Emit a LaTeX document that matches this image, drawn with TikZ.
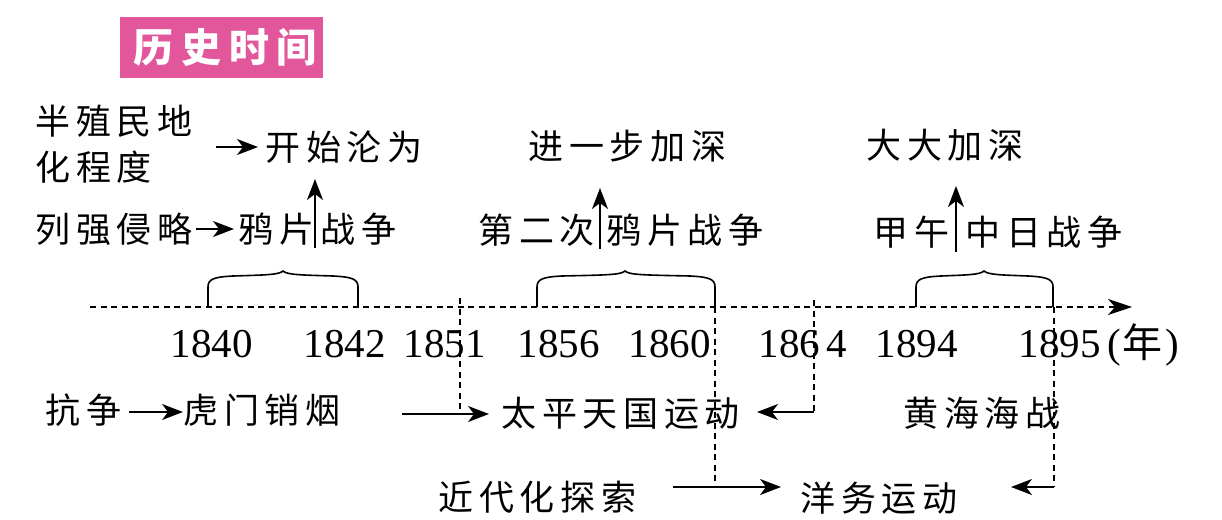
\documentclass[tikz,border=0pt]{standalone}
\usepackage{fontspec}
\setmainfont{Liberation Serif}
\newfontfamily\cjk[LetterSpace=16]{Noto Sans CJK SC}
\newfontfamily\cjkt[LetterSpace=19]{Noto Sans CJK SC}
\newfontfamily\cjkp{Noto Sans CJK SC}
\usetikzlibrary{arrows.meta}
\definecolor{titlepink}{HTML}{E2579C}
\tikzset{
  cj/.style={inner sep=0pt, anchor=west, text height=30.8pt, text depth=4.2pt,
    font=\cjk\fontsize{35}{35}\selectfont},
  num/.style={inner sep=0pt, anchor=base west, font=\fontsize{41}{41}\selectfont},
  dsh/.style={line width=1.5pt, dash pattern=on 6pt off 4.5pt},
  arr/.style={line width=1.8pt, -{Stealth[length=21pt,width=16pt,inset=6pt]}},
  bracepath/.style={line width=1.6pt},
  titlebox/.style={fill=titlepink, text=white, inner sep=0pt,
    minimum width=203pt, minimum height=61pt,
    font=\cjkt\bfseries\fontsize{40}{40}\selectfont}
}
\begin{document}
\begin{tikzpicture}[x=1pt,y=-1pt]
\useasboundingbox (0,0) rectangle (1222,519);

% title
\node[titlebox] (title) at (221.5,47.5) {\hspace*{7.6pt}历史时间};

% top texts
\node[cj] (bzm) at (35.5,121) {半殖民地};
\node[cj] (hcd) at (35.5,167) {化程度};
\node[cj] (ksl) at (265.5,147) {开始沦为};
\node[cj] (lqql) at (35.5,229) {列强侵略};
\node[cj] (yp1) at (238.5,229) {鸦片};
\node[cj] (zz1) at (320.5,229) {战争};
\node[cj] (jyb) at (528.5,146) {进一步加深};
\node[cj] (dec) at (478.5,230) {第二次};
\node[cj] (yp2) at (606.5,230) {鸦片战争};
\node[cj] (ddj) at (866.5,145) {大大加深};
\node[cj] (jw) at (873.5,232) {甲午};
\node[cj] (zrzz) at (965.5,232) {中日战争};

% arrows upper area
\coordinate (a1s) at (216,147); \coordinate (a1e) at (258,147);
\draw[arr] (a1s) -- (a1e);
\coordinate (a2s) at (196,229); \coordinate (a2e) at (234,229);
\draw[arr] (a2s) -- (a2e);
\coordinate (v1s) at (315,248); \coordinate (v1e) at (315,179);
\draw[arr] (v1s) -- (v1e);
\coordinate (v2s) at (600,249); \coordinate (v2e) at (600,188);
\draw[arr] (v2s) -- (v2e);
\coordinate (v3s) at (956,252); \coordinate (v3e) at (956,186);
\draw[arr] (v3s) -- (v3e);

% timeline
\coordinate (tl0) at (90,307); \coordinate (tl1) at (1132,307);
\draw[dsh, -{Stealth[length=24pt,width=16pt,inset=7pt]}] (tl0) -- (tl1);

% braces
\draw[bracepath] (208,307) -- (208,287) .. controls (208,279) and (214,277) .. (233,276)
  .. controls (263,275) and (279,275) .. (283,271)
  .. controls (287,275) and (303,275) .. (333,276)
  .. controls (352,277) and (358,279) .. (358,287) -- (358,307);
\draw[bracepath] (537,307) -- (537,287) .. controls (537,279) and (543,277) .. (562,276)
  .. controls (605,275) and (621,275) .. (625,271)
  .. controls (629,275) and (645,275) .. (690,276)
  .. controls (709,277) and (715,279) .. (715,287) -- (715,307);
\draw[bracepath] (916,307) -- (916,287) .. controls (916,279) and (922,277) .. (941,276)
  .. controls (964,275) and (980,275) .. (984,271)
  .. controls (988,275) and (1004,275) .. (1028,276)
  .. controls (1047,277) and (1053,279) .. (1053,287) -- (1053,307);

% years
\node[num] (y1840) at (170.5,357) {1840};
\node[num] (y1842) at (303.5,357) {1842};
\node[num] (y1851) at (403.5,357) {1851};
\node[num] (y1856) at (517.5,357) {1856};
\node[num] (y1860) at (628.5,357) {1860};
\node[num] (y186) at (758.5,357) {186};
\node[num] (y4) at (826.5,357) {4};
\node[num] (y1894) at (875.5,357) {1894};
\node[num] (y1895) at (1018.5,357) {1895};
\node[num] (nian) at (1107,357) {(\hspace{2pt}{\cjkp\fontsize{40}{40}\selectfont 年}\hspace{3pt})};

% bottom texts
\node[cj] (kz) at (45.5,410) {抗争};
\node[cj] (hmxy) at (183.5,410) {虎门销烟};
\node[cj] (tp) at (501.5,413) {太平天国运动};
\node[cj] (hh) at (903.5,413) {黄海海战};
\node[cj] (jdh) at (438.5,497) {近代化探索};
\node[cj] (yw) at (800.5,498) {洋务运动};

% bottom connectors
\coordinate (a3s) at (129,412); \coordinate (a3e) at (183,412);
\draw[arr] (a3s) -- (a3e);

\coordinate (d51t) at (460,298); \coordinate (d51b) at (460,414);
\draw[dsh] (d51t) -- (d51b);
\coordinate (a4s) at (402,414); \coordinate (a4e) at (489,414);
\draw[arr] (a4s) -- (a4e);

\coordinate (d64t) at (814,300); \coordinate (d64b) at (814,412);
\draw[dsh] (d64t) -- (d64b);
\coordinate (a5e) at (757,412);
\draw[arr] (d64b) -- (a5e);

\coordinate (d60t) at (715,307); \coordinate (d60b) at (715,487);
\draw[dsh] (d60t) -- (d60b);
\coordinate (a6s) at (673,487); \coordinate (a6e) at (781,487);
\draw[arr] (a6s) -- (a6e);

\coordinate (d95t) at (1054,307); \coordinate (d95b) at (1054,487);
\draw[dsh] (d95t) -- (d95b);
\coordinate (a7e) at (1011,487);
\draw[arr] (d95b) -- (a7e);
\end{tikzpicture}
\end{document}
